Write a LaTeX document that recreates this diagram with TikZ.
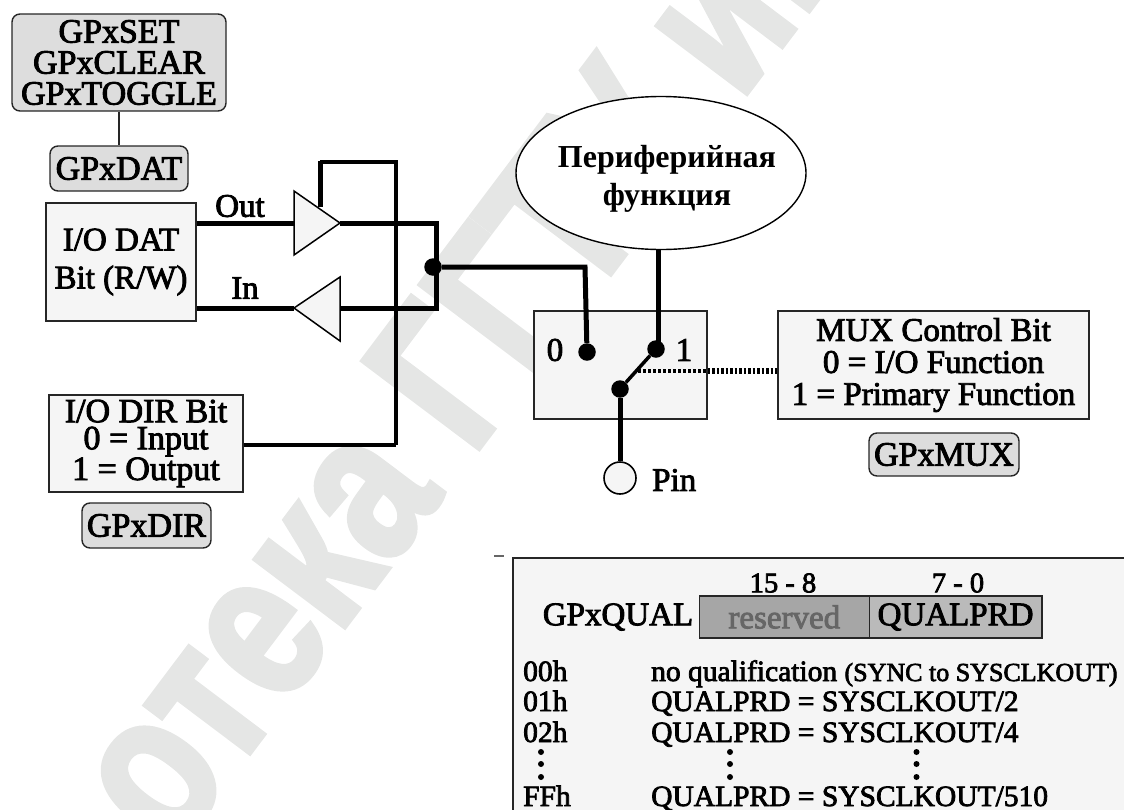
\documentclass[tikz,border=0pt]{standalone}
\usetikzlibrary{shapes.geometric}
\usepackage{graphicx}
\usepackage{fontspec}
\setmainfont{Liberation Serif}[FakeBold=2.6]
\newfontfamily\plainserif{Liberation Serif}
\newfontfamily\wmfont{Liberation Sans}[BoldFeatures={FakeBold=3}]
\newcommand{\fsz}[2]{\fontsize{#1}{#2}\selectfont}
\definecolor{boxg}{HTML}{DDDDDD}
\definecolor{boxl}{HTML}{F5F5F5}
\definecolor{wm}{HTML}{E5E6E5}
\tikzset{
  lbl/.style={inner sep=0pt,font=\fsz{33}{31}},
  regbox/.style={draw=black!85,line width=1.4pt,fill=boxg,rounded corners=8pt,inner sep=0pt,align=center,font=\fsz{34}{31}},
  plainbox/.style={draw=black!85,line width=1.4pt,fill=boxl,inner sep=0pt,align=center,font=\fsz{33}{31}},
  wire/.style={line width=5pt,line join=miter},
  tri/.style={draw=black,line width=1.5pt,fill=boxl},
  jdot/.style={circle,fill=black,inner sep=0pt,minimum size=17.5pt},
  row/.style={anchor=base west,inner sep=0pt,font=\fsz{29.5}{30}},
  tdot/.style={circle,fill=black,inner sep=0pt,minimum size=6pt}
}
\begin{document}
\begin{tikzpicture}[x=1pt,y=-1pt]
\useasboundingbox (0,0) rectangle (1124,809);
\begin{scope}
\clip (0,0) rectangle (1124,809);
\node[anchor=base west,inner sep=0pt,rotate=53,text=wm,font=\wmfont\bfseries\fsz{210}{210}] (water) at (172,855) {\scalebox{0.8}[1]{отека ГГТУ им}};
\end{scope}

% boxes
\node[regbox,minimum width=214pt,minimum height=97pt] (set) at (119,62.5) {GPxSET\\GPxCLEAR\\GPxTOGGLE};
\node[regbox,minimum width=138pt,minimum height=45pt] (dat) at (119,168.5) {GPxDAT};
\draw[line width=1.4pt,black!85] (set.south -| dat.north) -- (dat.north);
\node[plainbox,minimum width=150pt,minimum height=118pt,font=\fsz{33}{38}] (iodat) at (121,262) {I/O DAT\\Bit (R/W)};
\node[plainbox,minimum width=194pt,minimum height=97pt,font=\fsz{34}{27}] (iodir) at (146,443.5) {\raisebox{-3pt}{I/O DIR Bit}\\\raisebox{-3pt}{0 = Input}\\\raisebox{-3pt}{1 = Output}};
\node[regbox,minimum width=129pt,minimum height=45pt] (dir) at (146.5,525.5) {GPxDIR};
\node[plainbox,minimum width=173pt,minimum height=108pt] (mux) at (620.5,365) {};
\node[plainbox,minimum width=311pt,minimum height=108pt,font=\fsz{33}{32}] (ctrl) at (933.5,365) {\raisebox{-2.5pt}{MUX Control Bit}\\\raisebox{-2.5pt}{0 = I/O Function}\\\raisebox{-2.5pt}{1 = Primary Function}};
\node[regbox,minimum width=150pt,minimum height=43pt] (gmux) at (944,454.5) {GPxMUX};
\node[draw=black,line width=1.4pt,fill=white,ellipse,minimum width=290pt,minimum height=153pt,inner sep=0pt] (periph) at (661,173) {};
\coordinate (ellbot) at (658,250);
\node[align=center,inner sep=0pt,font=\fsz{32}{38}\plainserif\bfseries] (ptext) at (667,179) {Периферийная\\функция};

% buffers
\coordinate (outin) at (294,223);
\coordinate (outtip) at (340,223);
\coordinate (intip) at (294,308);
\coordinate (inback) at (340,308);
\coordinate (bus) at (436,267);
\coordinate (fbtop) at (396,162);
\coordinate (fbleft) at (320,162);
\coordinate (fbend) at (320,207);
\coordinate (dirout) at (396,445);

% feedback
\draw[line width=4.5pt] (iodir.east |- dirout) -- (dirout);
\draw[line width=4pt,line join=miter] (dirout) -- (fbtop) -- (fbleft);
\draw[line width=5pt] (fbleft) ++(0,-1.5) -- (fbend);

% data wires
\draw[wire] (iodat.east |- outin) -- (outin);
\draw[wire] (iodat.east |- intip) -- (intip);
\draw[wire] (outtip) -- (bus |- outtip) -- (bus |- inback) -- (inback);
\draw[tri] (294,191) -- (294,255) -- (outtip) -- cycle;
\draw[tri] (340,277) -- (340,341) -- (intip) -- cycle;
\node[jdot] (j) at (433,267) {};

% switch
\node[jdot] (d0) at (587,352) {};
\node[jdot] (d1) at (656,349) {};
\node[jdot] (dc) at (620,389) {};
\draw[wire] (j) -- (585,267) -- (d0);
\draw[wire] (ellbot) -- (ellbot |- d1);
\draw[line width=3.5pt] (dc) -- (d1);
\node[draw=black,line width=1.6pt,fill=boxl,circle,inner sep=0pt,minimum size=32pt] (pin) at (620,478) {};
\draw[wire] (dc) -- (pin);
\coordinate (dstart) at (638,371);
\draw[line width=3.5pt,dash pattern=on 2.5pt off 2.5pt] (dstart) -- (dstart -| mux.east);
\draw[line width=5.5pt,dash pattern=on 2.5pt off 2pt] (dstart -| mux.east) -- (dstart -| ctrl.west);

\node[lbl] (l0) at (555,350) {0};
\node[lbl] (l1) at (684,350) {1};
\node[lbl,anchor=west] (pinl) at (652,480) {Pin};
\node[lbl] (lout) at (240,206) {Out};
\node[lbl] (lin) at (245,288) {In};

% table
\node[draw=black!85,line width=1.6pt,fill=boxl,minimum width=620pt,minimum height=260pt,anchor=north west,inner sep=0pt] (tbl) at (512,557) {};
\draw[line width=1.2pt,black!60] (494,556) -- (504,556);
\node[draw=black!85,line width=1.6pt,fill=black!35,minimum width=170pt,minimum height=42pt,inner sep=0pt,text=black!60,font=\fsz{33}{30},anchor=west] (res) at (698.5,617) {reserved};
\node[draw=black!85,line width=1.6pt,fill=black!27,minimum width=172.5pt,minimum height=42pt,inner sep=0pt,font=\fsz{33}{30},anchor=west] (qp) at (868.5,617) {QUALPRD};
\node[lbl,font=\fsz{28.5}{30}] (b1) at (783,583) {15 - 8};
\node[lbl,font=\fsz{28.5}{30}] (b2) at (958,583) {7 - 0};
\node[lbl,font=\fsz{33}{30}] (gq) at (618,617) {GPxQUAL};
\node[row] (r0a) at (523,681) {00h};
\node[row] (r1a) at (523,711) {01h};
\node[row] (r2a) at (523,742) {02h};
\node[row] (r3a) at (523,806) {FFh};
\node[row] (r0b) at (651,681) {no qualification {\fsz{26}{30}(SYNC to SYSCLKOUT)}};
\node[row] (r1b) at (651,711) {QUALPRD = SYSCLKOUT/2};
\node[row] (r2b) at (651,742) {QUALPRD = SYSCLKOUT/4};
\node[row] (r3b) at (651,806) {QUALPRD = SYSCLKOUT/510};
\foreach \cx/\nm in {541/a,730/b,916.5/c}{
  \node[tdot] (t1\nm) at (\cx,752) {};
  \node[tdot] (t2\nm) at (\cx,764) {};
  \node[tdot] (t3\nm) at (\cx,777) {};
}
\end{tikzpicture}
\end{document}
